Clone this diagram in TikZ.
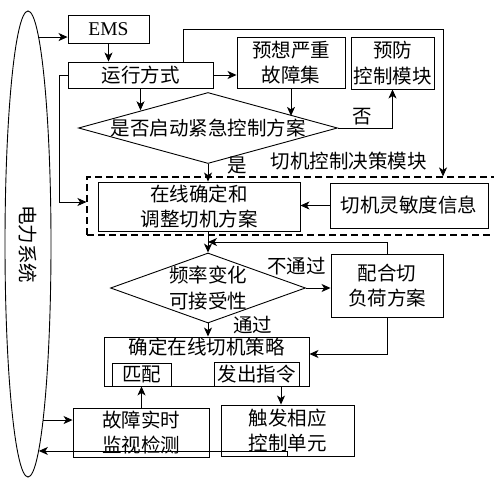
\documentclass[tikz,border=0pt]{standalone}
\usepackage{fontspec}
\setmainfont{Liberation Serif}
\newfontfamily\cjk{Noto Sans CJK SC}
\usetikzlibrary{shapes.geometric, arrows.meta}
\tikzset{
  every node/.style={font=\cjk\fontsize{19.5}{25.5}\selectfont},
  block/.style={
    rectangle,
    draw=black,
    line width=0.9pt,
    inner sep=1pt,
    align=center
  },
  decision/.style={diamond, draw=black, line width=0.9pt, inner sep=0pt},
  module/.style={draw=black, dash pattern=on 7pt off 4pt, line width=1.1pt, inner sep=0pt}
}
\tikzstyle{arrow} = [->, line width=0.9pt, > = {Stealth[length=9pt, width=8pt, inset=2.5pt]}]

\begin{document}
\begin{tikzpicture}[x=1pt, y=-1pt]
    \useasboundingbox (0,0) rectangle (494,478);
    \node[ellipse, draw=black, line width=0.9pt, minimum width=46pt, minimum height=466pt, inner sep=0pt] (sys) at (28,244) {};
    \node[rotate=-90] (syslbl) at (sys.center) {电力系统};
    \node[block, minimum width=81pt, minimum height=28pt] (ems) at (108.5,29) {\rmfamily EMS};
    \node[block, minimum width=145pt, minimum height=26pt] (run) at (140.5,75) {运行方式};
    \node[block, minimum width=108pt, minimum height=51pt] (fault) at (291,62.5) {预想严重\\故障集};
    \node[block, minimum width=83pt, minimum height=52pt] (prev) at (392.5,63) {预防\\控制模块};
    \node[decision, minimum width=259pt, minimum height=71pt, label=center:是否启动紧急控制方案] (d1) at (208,128) {};
    \node[module, minimum width=413pt, minimum height=58pt] (mod) at (293.5,206) {};
    \node (modlbl) at (348.5,161) {切机控制决策模块};
    \node[block, minimum width=202pt, minimum height=49pt] (online) at (199,206.5) {在线确定和\\调整切机方案};
    \node[block, minimum width=158pt, minimum height=45pt] (sens) at (409,205.5) {切机灵敏度信息};
    \node[decision, minimum width=195pt, minimum height=70pt, label={[align=center]center:频率变化\\可接受性}] (d2) at (208,288) {};
    \node[block, minimum width=112pt, minimum height=63pt] (load) at (387,285.5) {配合切\\负荷方案};
    \node[block, minimum width=205pt, minimum height=49pt, label={[anchor=north, inner sep=1pt]north:确定在线切机策略}] (plan) at (206.5,361.5) {};
    \node[block, minimum width=59pt, minimum height=23pt] (match) at (141.5,374.5) {匹配};
    \node[block, minimum width=85pt, minimum height=24pt] (issue) at (256.5,374) {发出指令};
    \node[block, minimum width=136pt, minimum height=49pt] (mon) at (141,432.5) {故障实时\\监视检测};
    \node[block, minimum width=133pt, minimum height=51pt] (trig) at (287.5,430.5) {触发相应\\控制单元};
    \coordinate (top) at (443,29);
    \coordinate (back) at (208,242);
    \draw[arrow] (sys.87.6) -- (sys.87.6 -| ems.west);
    \draw[arrow] (ems.south) -- (ems.south |- run.north);
    \draw[arrow] (run.east) -- (run.east -| fault.west);
    \draw[arrow] (run.south) -- (run.south |- d1.165.9);
    \draw[arrow] (fault.south) -- (fault.south |- d1.8.7);
    \draw[arrow] ([xshift=42.5pt]run.north) |- (top) -- (top |- mod.north);
    \draw[arrow] (run.west) -- ++(-8,0) |- ([yshift=4pt]mod.west);
    \draw[arrow] (d1.east) -| node[above, pos=0.225, inner sep=2pt] {否} (prev.south);
    \draw[arrow] (d1.south) -- node[right, pos=0.08, inner sep=0pt, xshift=19pt] {是} (d1.south |- online.north);
    \draw[arrow] (sens.west) -- (sens.west -| online.east);
    \draw[arrow] (d2.north |- online.south) -- (d2.north);
    \draw[arrow] (load.north) |- (back);
    \draw[arrow] (d2.east) -- node[above, pos=0, inner sep=2pt, xshift=-9.5pt, yshift=11pt] {不通过} (d2.east -| load.west);
    \draw[arrow] (d2.south) -- node[right, pos=0.15, inner sep=0pt, xshift=25pt] {通过} (d2.south |- plan.north);
    \draw[arrow] (load.south) |- ([yshift=7.5pt]plan.east);
    \draw[arrow] (match.south |- mon.north) -- (match.south);
    \draw[arrow] ([xshift=-6.5pt]trig.north |- issue.south) -- ([xshift=-6.5pt]trig.north);
    \draw[arrow] (sys.-85.6) -- (sys.-85.6 -| mon.west);
    \draw[arrow] (trig.south) |- (sys.-87.9);
\end{tikzpicture}
\end{document}
